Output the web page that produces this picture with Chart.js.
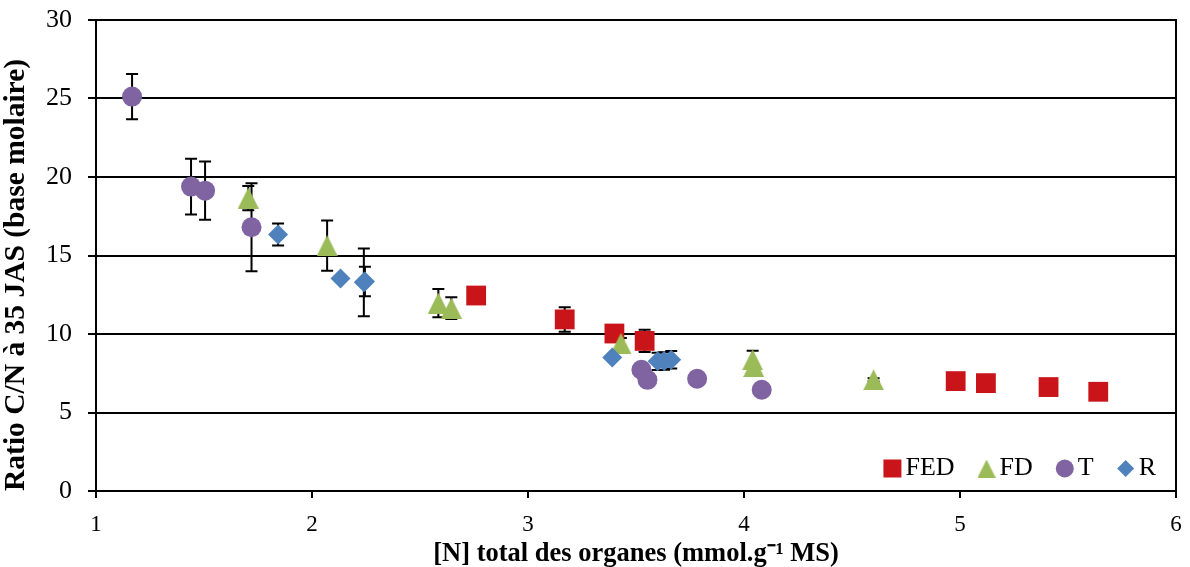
<!DOCTYPE html>
<html><head><meta charset="utf-8">
<script src="https://cdn.jsdelivr.net/npm/chart.js@4.4.1/dist/chart.umd.min.js"></script>
<style>html,body{margin:0;padding:0;background:#fff;}canvas{display:block;}</style>
</head><body>
<canvas id="c" width="1190" height="567"></canvas>
<script>
// ---- data ----
const seriesNames = ['FED', 'FD', 'T', 'R'];

const fedX   = [2.76, 3.17, 3.40, 3.54, 4.98, 5.12, 5.41, 5.64];
const fedY   = [12.45, 10.93, 10.03, 9.56, 7.00, 6.87, 6.62, 6.32];
const fedErr = [0, 0.78, 0, 0.71, 0, 0, 0, 0];

const fdX   = [1.705, 2.07, 2.585, 2.645, 3.43, 4.04, 4.045, 4.60];
const fdY   = [18.66, 15.63, 11.97, 11.65, 9.40, 8.36, 7.93, 7.08];
const fdErr = [0.77, 1.60, 0.90, 0.69, 0.35, 0.57, 0, 0.10];

const tX   = [1.167, 1.44, 1.505, 1.72, 3.525, 3.553, 3.783, 4.082];
const tY   = [25.12, 19.39, 19.13, 16.80, 7.72, 7.08, 7.15, 6.45];
const tErr = [1.44, 1.78, 1.85, 2.80, 0, 0, 0, 0];

const rX   = [1.843, 2.132, 2.24, 2.245, 3.39, 3.60, 3.63, 3.663];
const rY   = [16.34, 13.53, 13.29, 13.34, 8.51, 8.26, 8.28, 8.36];
const rErr = [0.70, 0, 2.16, 0.94, 0, 0.55, 0.55, 0.55];

const xTicks = [1, 2, 3, 4, 5, 6];
const yTicks = [0, 5, 10, 15, 20, 25, 30];

const xTitle = '[N] total des organes (mmol.g\u207B\u00B9 MS)';
const yTitle = 'Ratio C/N à 35 JAS (base molaire)';

// ---- styles ----
const COL = { FED: '#C9151A', FD: '#9BBB59', T: '#8064A2', R: '#4F81BD' };

function makeTriangle(size, color) {
  const c = document.createElement('canvas');
  c.width = size; c.height = size;
  const g = c.getContext('2d');
  g.fillStyle = color;
  g.beginPath();
  g.moveTo(size / 2, 0);
  g.lineTo(size, size);
  g.lineTo(0, size);
  g.closePath();
  g.fill();
  return c;
}
const triPlot = makeTriangle(21, COL.FD);
const triLegend = makeTriangle(18, COL.FD);

const pts = (xs, ys) => xs.map((x, i) => ({ x: x, y: ys[i] }));

const datasets = [
  { label: seriesNames[0], data: pts(fedX, fedY), errors: fedErr, pointStyle: 'rect', pointRadius: 14,
    backgroundColor: COL.FED, order: 4, legendStyle: 'rect' },
  { label: seriesNames[1], data: pts(fdX, fdY), errors: fdErr, pointStyle: triPlot, pointRadius: 11,
    backgroundColor: COL.FD, order: 3, legendStyle: 'tri' },
  { label: seriesNames[2], data: pts(tX, tY), errors: tErr, pointStyle: 'circle', pointRadius: 10,
    backgroundColor: COL.T, order: 2, legendStyle: 'circle' },
  { label: seriesNames[3], data: pts(rX, rY), errors: rErr, pointStyle: 'rectRot', pointRadius: 10,
    backgroundColor: COL.R, order: 1, legendStyle: 'diamond' }
];
datasets.forEach(d => { d.borderWidth = 0; d.pointBorderWidth = 0; d.pointHoverRadius = d.pointRadius; d.showLine = false; });

// ---- plugins ----
const frameAndErrors = {
  id: 'frameAndErrors',
  beforeDatasetsDraw(chart) {
    const { ctx, chartArea: a, scales: { x, y } } = chart;
    ctx.save();
    ctx.strokeStyle = '#000';
    ctx.lineWidth = 2;
    ctx.strokeRect(a.left, a.top, a.right - a.left, a.bottom - a.top);
    chart.data.datasets.forEach(ds => {
      const errs = ds.errors;
      if (!errs) return;
      ds.data.forEach((p, j) => {
        const e = errs[j];
        if (!e) return;
        const px = x.getPixelForValue(p.x);
        const y1 = y.getPixelForValue(p.y + e);
        const y2 = y.getPixelForValue(p.y - e);
        ctx.beginPath();
        ctx.moveTo(px, y1); ctx.lineTo(px, y2);
        ctx.moveTo(px - 6, y1); ctx.lineTo(px + 6, y1);
        ctx.moveTo(px - 6, y2); ctx.lineTo(px + 6, y2);
        ctx.stroke();
      });
    });
    ctx.restore();
  }
};

const insideLegend = {
  id: 'insideLegend',
  afterDraw(chart) {
    const { ctx, chartArea: a } = chart;
    ctx.save();
    ctx.font = '26px "Liberation Serif"';
    ctx.textBaseline = 'middle';
    ctx.textAlign = 'left';
    ctx.fillStyle = '#000';
    const markerW = 18, gap = 4, spacing = 23;
    const items = chart.data.datasets.map(ds => ({ ds: ds, w: ctx.measureText(ds.label).width }));
    let total = 0;
    items.forEach((it, i) => { total += markerW + gap + it.w + (i < items.length - 1 ? spacing : 0); });
    let x = a.right - 20 - total;
    const cy = a.bottom - 22.5;
    items.forEach(it => {
      const cx = x + markerW / 2;
      ctx.fillStyle = it.ds.backgroundColor;
      ctx.beginPath();
      if (it.ds.legendStyle === 'rect') {
        ctx.rect(cx - 9, cy - 9, 18, 18);
        ctx.fill();
      } else if (it.ds.legendStyle === 'tri') {
        ctx.drawImage(triLegend, cx - 9, cy - 9);
      } else if (it.ds.legendStyle === 'circle') {
        ctx.arc(cx, cy, 9, 0, Math.PI * 2);
        ctx.fill();
      } else {
        ctx.moveTo(cx, cy - 8.5); ctx.lineTo(cx + 8.5, cy); ctx.lineTo(cx, cy + 8.5); ctx.lineTo(cx - 8.5, cy);
        ctx.closePath();
        ctx.fill();
      }
      ctx.fillStyle = '#000';
      ctx.fillText(it.ds.label, x + markerW + gap, cy - 0.5);
      x += markerW + gap + it.w + spacing;
    });
    ctx.restore();
  }
};

function zeroPad(s) { s.paddingTop = 0; s.paddingBottom = 0; s.paddingLeft = 0; s.paddingRight = 0; }

new Chart(document.getElementById('c'), {
  type: 'scatter',
  data: { datasets: datasets },
  plugins: [frameAndErrors, insideLegend],
  options: {
    responsive: false,
    animation: false,
    devicePixelRatio: 1,
    layout: { padding: { top: 20, right: 13, left: 0, bottom: 0 } },
    plugins: { legend: { display: false }, tooltip: { enabled: false } },
    scales: {
      x: {
        type: 'linear', min: xTicks[0], max: xTicks[xTicks.length - 1],
        afterBuildTicks: s => { s.ticks = xTicks.map(v => ({ value: v })); },
        afterFit: s => { s.height = 76; zeroPad(s); },
        grid: { display: true, drawOnChartArea: false, drawTicks: true, tickLength: 7, color: '#000', lineWidth: 2 },
        border: { display: true, color: '#000', width: 2 },
        ticks: { color: '#000', padding: 13, font: { family: 'Liberation Serif', size: 23 } },
        title: { display: true, text: xTitle, color: '#000', padding: { top: 0, bottom: 0 },
                 font: { family: 'Liberation Serif', size: 26.5, weight: 'bold', lineHeight: 1 } }
      },
      y: {
        type: 'linear', min: yTicks[0], max: yTicks[yTicks.length - 1],
        afterBuildTicks: s => { s.ticks = yTicks.map(v => ({ value: v })); },
        afterFit: s => { s.width = 96; zeroPad(s); },
        grid: { display: true, drawOnChartArea: true, drawTicks: true, tickLength: 8, color: '#000', lineWidth: 2 },
        border: { display: true, color: '#000', width: 2 },
        ticks: { color: '#000', padding: 16, font: { family: 'Liberation Serif', size: 26 } },
        title: { display: true, text: yTitle, color: '#000', align: 'start', padding: { top: 2, bottom: 0 },
                 font: { family: 'Liberation Serif', size: 29.5, weight: 'bold', lineHeight: 1 } }
      }
    }
  }
});
</script>
</body></html>
